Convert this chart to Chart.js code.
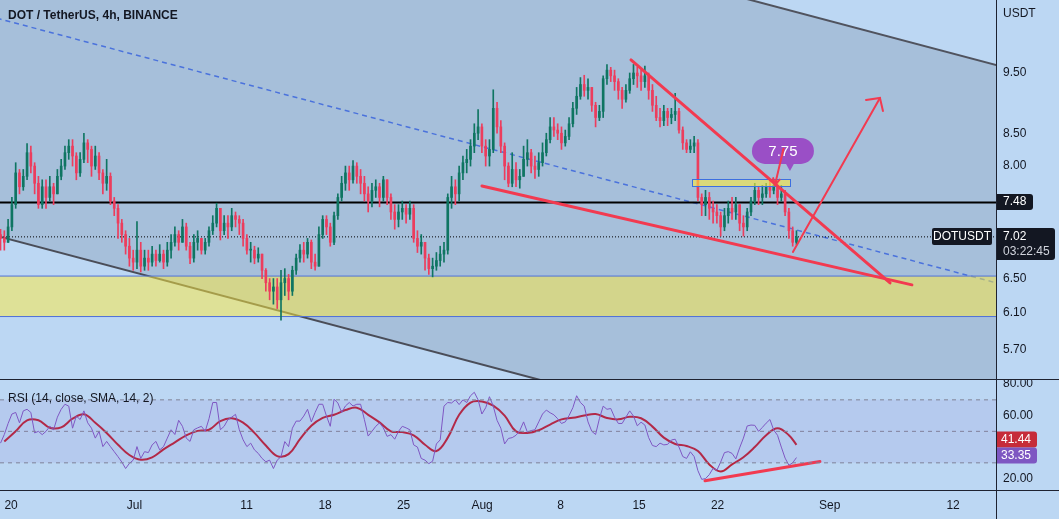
<!DOCTYPE html>
<html>
<head>
<meta charset="utf-8">
<script src="https://cdn.jsdelivr.net/npm/chart.js@4.4.0/dist/chart.umd.min.js"></script>
<style>
  html, body { margin: 0; padding: 0; }
  body { width: 1059px; height: 519px; overflow: hidden; position: relative; background: #bcd7f3; }
  canvas { position: absolute; left: 0; }
  #price { top: 0; }
  #rsi { top: 380px; }
  .sep { position: absolute; background: #1e2230; }
</style>
</head>
<body>
<canvas id="price" width="1059" height="379"></canvas>
<canvas id="rsi" width="1059" height="139"></canvas>
<div class="sep" style="left:0;top:379px;width:1059px;height:1px"></div>
<div class="sep" style="left:0;top:490px;width:1059px;height:1px"></div>
<div class="sep" style="left:996px;top:0;width:1px;height:519px"></div>
<script>
// time is in days counted from Jun 20 00:00
const X_TICK_DAYS = [0, 11, 21, 28, 35, 42, 49, 56, 63, 73, 84];
const X_TICK_LABELS = ['20', 'Jul', '11', '18', '25', 'Aug', '8', '15', '22', 'Sep', '12'];
const X_MIN = -0.99;
const X_MAX = 87.83;

// bars, ~8h apart
const CANDLE_START = -0.943;
const CANDLE_STEP = 0.338;
const FIRST_OPEN = 7.05;

const closes = [
  7.00, 6.95, 7.15, 7.45, 7.90, 7.70,
  7.85, 8.20, 8.00, 7.75, 7.45, 7.70,
  7.55, 7.70, 7.60, 7.85, 8.00, 8.20,
  8.30, 8.15, 7.90, 8.10, 8.35, 8.25,
  8.00, 8.15, 7.90, 7.75, 7.85, 7.50,
  7.40, 7.20, 7.05, 6.90, 6.75, 6.70,
  6.85, 6.65, 6.75, 6.70, 6.80, 6.72,
  6.80, 6.70, 6.85, 6.95, 7.05, 6.95,
  7.15, 6.90, 6.75, 6.95, 7.00, 6.85,
  6.95, 7.10, 7.20, 7.40, 7.10, 7.20,
  7.15, 7.30, 7.25, 7.20, 7.00, 6.85,
  6.85, 6.75, 6.80, 6.60, 6.45, 6.35,
  6.40, 6.25, 6.45, 6.50, 6.35, 6.60,
  6.75, 6.85, 6.80, 6.95, 6.70, 6.65,
  7.05, 7.25, 7.15, 6.95, 7.30, 7.55,
  7.75, 7.90, 7.80, 8.00, 7.85, 7.75,
  7.60, 7.50, 7.65, 7.70, 7.55, 7.80,
  7.55, 7.35, 7.25, 7.35, 7.40, 7.32,
  7.40, 7.00, 6.90, 6.95, 6.75, 6.62,
  6.65, 6.72, 6.80, 6.85, 7.55, 7.70,
  7.60, 7.90, 8.05, 8.10, 8.30, 8.50,
  8.60, 8.30, 8.15, 8.25, 8.90, 8.60,
  8.30, 8.00, 7.75, 7.95, 7.80, 7.85,
  8.10, 8.20, 8.00, 7.95, 8.05, 8.20,
  8.40, 8.60, 8.55, 8.50, 8.35, 8.45,
  8.65, 8.90, 9.10, 9.30, 9.20, 9.25,
  8.95, 8.75, 8.85, 9.40, 9.55, 9.45,
  9.35, 9.20, 9.05, 9.20, 9.40, 9.50,
  9.45, 9.35, 9.45, 9.20, 8.95, 8.75,
  8.70, 8.85, 8.75, 8.80, 8.85, 8.55,
  8.35, 8.25, 8.30, 8.35, 7.55, 7.45,
  7.55, 7.40, 7.35, 7.30, 7.15, 7.30,
  7.40, 7.35, 7.45, 7.20, 7.15, 7.35,
  7.50, 7.65, 7.55, 7.60, 7.70, 7.65,
  7.72, 7.55, 7.60, 7.35, 7.10, 6.95,
  7.02
];
const highs = [
  7.12, 7.10, 7.25, 7.55, 8.05, 7.95,
  7.95, 8.34, 8.30, 8.05, 7.85, 7.80,
  7.80, 7.85, 7.75, 7.95, 8.10, 8.30,
  8.40, 8.40, 8.20, 8.20, 8.50, 8.40,
  8.30, 8.30, 8.20, 7.95, 8.10, 7.90,
  7.55, 7.45, 7.25, 7.10, 7.00, 6.85,
  7.22, 6.95, 6.85, 6.85, 6.90, 6.85,
  6.92, 6.85, 6.95, 7.05, 7.15, 7.10,
  7.25, 7.20, 6.95, 7.05, 7.10, 7.00,
  7.00, 7.15, 7.30, 7.47, 7.40, 7.30,
  7.30, 7.40, 7.35, 7.30, 7.25, 7.05,
  6.95, 6.90, 6.88, 6.80, 6.62, 6.50,
  6.50, 6.50, 6.60, 6.62, 6.55, 6.65,
  6.80, 6.92, 6.95, 7.00, 6.98, 6.80,
  7.15, 7.30, 7.30, 7.20, 7.35, 7.60,
  7.85, 8.00, 8.00, 8.08, 8.05, 7.95,
  7.85, 7.70, 7.75, 7.80, 7.75, 7.85,
  7.75, 7.60, 7.45, 7.45, 7.50, 7.45,
  7.50, 7.45, 7.10, 7.05, 6.95, 6.80,
  6.75, 6.82, 6.90, 6.95, 7.60, 7.85,
  7.80, 8.00, 8.15, 8.25, 8.40, 8.65,
  8.88, 8.65, 8.40, 8.40, 9.21, 9.00,
  8.70, 8.35, 8.05, 8.20, 8.05, 7.95,
  8.30, 8.40, 8.25, 8.15, 8.20, 8.35,
  8.50, 8.75, 8.75, 8.65, 8.60, 8.55,
  8.75, 9.00, 9.25, 9.42, 9.46, 9.40,
  9.25, 9.00, 8.95, 9.45, 9.65, 9.60,
  9.55, 9.40, 9.25, 9.30, 9.50, 9.65,
  9.60, 9.55, 9.62, 9.50, 9.30, 9.10,
  8.90, 8.95, 8.90, 8.90, 9.15, 8.90,
  8.60, 8.40, 8.40, 8.45, 8.40, 7.60,
  7.65, 7.62, 7.50, 7.45, 7.35, 7.40,
  7.50, 7.55, 7.55, 7.45, 7.30, 7.40,
  7.55, 7.75, 7.70, 7.72, 7.75, 7.78,
  7.80, 7.80, 7.72, 7.65, 7.40, 7.15,
  7.10
];
const lows = [
  6.85, 6.85, 6.95, 7.10, 7.40, 7.60,
  7.65, 7.80, 7.90, 7.60, 7.40, 7.40,
  7.40, 7.50, 7.45, 7.60, 7.80, 7.95,
  8.10, 8.00, 7.80, 7.85, 8.05, 8.05,
  7.85, 7.95, 7.80, 7.60, 7.65, 7.45,
  7.30, 7.00, 6.95, 6.80, 6.65, 6.60,
  6.62, 6.58, 6.60, 6.60, 6.65, 6.65,
  6.70, 6.62, 6.65, 6.75, 6.90, 6.85,
  6.95, 6.85, 6.68, 6.70, 6.85, 6.80,
  6.80, 6.90, 7.05, 7.15, 6.98, 7.05,
  7.00, 7.10, 7.15, 7.05, 6.90, 6.80,
  6.70, 6.68, 6.70, 6.50, 6.35, 6.25,
  6.20, 6.15, 6.02, 6.30, 6.25, 6.30,
  6.55, 6.70, 6.70, 6.75, 6.62, 6.60,
  6.65, 7.00, 7.05, 6.90, 6.92, 7.25,
  7.50, 7.65, 7.65, 7.75, 7.75, 7.60,
  7.50, 7.35, 7.42, 7.55, 7.42, 7.50,
  7.45, 7.25, 7.12, 7.15, 7.25, 7.20,
  7.25, 6.95, 6.82, 6.80, 6.60, 6.55,
  6.52, 6.60, 6.65, 6.70, 6.80, 7.40,
  7.45, 7.50, 7.80, 7.90, 8.00, 8.20,
  8.40, 8.20, 8.00, 8.00, 8.20, 8.50,
  8.20, 7.80, 7.70, 7.70, 7.70, 7.68,
  7.85, 8.00, 7.90, 7.82, 7.85, 8.00,
  8.15, 8.35, 8.45, 8.40, 8.25, 8.30,
  8.40, 8.60, 8.80, 9.05, 9.10, 9.05,
  8.85, 8.60, 8.70, 8.75, 9.30, 9.35,
  9.20, 9.05, 8.90, 9.00, 9.15, 9.30,
  9.25, 9.20, 9.25, 9.05, 8.85, 8.70,
  8.60, 8.62, 8.62, 8.65, 8.70, 8.50,
  8.25, 8.20, 8.20, 8.20, 7.50, 7.30,
  7.30, 7.25, 7.20, 7.20, 7.03, 7.10,
  7.20, 7.25, 7.25, 7.10, 7.03, 7.10,
  7.30, 7.45, 7.45, 7.45, 7.55, 7.55,
  7.60, 7.45, 7.50, 7.30, 7.00, 6.90,
  6.92
];

// RSI(14) at each bar, and its SMA(14) read once per day
const rsiValues = [
  42.5, 48, 55, 61, 62, 55.4, 63, 64, 62, 49,
  50, 47.9, 50, 53.2, 51, 59, 64, 67.2, 66, 52,
  59.7, 57.5, 63, 55.4, 52, 45.7, 50, 40.3, 43.6, 40.3,
  37.1, 33.9, 30.5, 26.4, 29.6, 31.7, 40.3, 32.8, 37.1, 36.5,
  41.4, 43.6, 38.2, 40.3, 45.7, 51, 48, 57, 53.2, 45.7,
  43.6, 51, 52.2, 53.2, 50, 58, 68.3, 68.3, 51, 53.2,
  57.5, 59, 60.8, 51, 44.6, 40.3, 42.5, 38.2, 36, 32.8,
  30.7, 31.7, 26.4, 31.7, 33.9, 43.5, 40.3, 52, 56.5, 56.5,
  59.7, 64, 56, 62, 67.2, 67.2, 59.7, 53.2, 70.4, 68,
  62, 66.1, 68.3, 66.1, 67.2, 67.2, 57.5, 47, 50, 53.2,
  55.4, 52.2, 46.8, 47.9, 45, 50, 53.2, 52.2, 51, 41.4,
  40, 32.8, 31.7, 29.5, 31, 42, 44.6, 66, 68.3, 68,
  70, 67, 70, 68.3, 72.6, 74.8, 70, 61, 65, 72,
  66, 57, 52, 42, 45.5, 46, 47.5, 50.5, 56, 49.5,
  50.5, 51, 56, 61, 63.5, 61.8, 60.5, 58, 55, 56,
  60, 65, 72.6, 68.3, 66, 56, 50, 48, 58, 66,
  64, 64.5, 59, 55, 55, 59, 63, 59.7, 53.5, 55.8,
  54, 46, 41, 40.3, 42.5, 41.4, 41.7, 44.5, 45, 40,
  34, 32.8, 37, 34, 25, 19.5, 20, 22.5, 26.5, 25.3,
  30.5, 36.5, 37.1, 36, 32.5, 39.5, 45.7, 53.4, 54, 53.8,
  50, 52.5, 55.2, 57.5, 50.8, 47.5, 40, 33, 28.5, 30,
  33.35
];
const rsiSma = [
  43.5, 50, 57, 57, 52.3, 52.5, 58, 60.8, 55.5, 49,
  41.5, 35, 32, 33.5, 38.5, 43, 47.5, 50.3, 51, 56.5,
  58.3, 55.5, 49, 41, 34.3, 35.5, 45, 53.5, 58.5, 60.5,
  63.5, 65, 60.5, 55.7, 50, 49.5, 47.5, 41.5, 37.5, 46,
  60.5, 68.3, 69, 66.3, 60, 50, 49, 50.7, 54.3, 57.6,
  58.6, 60, 61, 58.5, 57.6, 59.2, 58.3, 53, 46, 42,
  40.7, 37.5, 29, 24.5, 29, 33.5, 40, 47.5, 52, 47.5,
  41.44
];

// price axis
const PRICE_TICKS = [5.70, 6.10, 6.50, 8.00, 8.50, 9.50];
const P_MIN = 5.40;
const P_MAX = 10.87;
const LEVEL = 7.48;
const LAST_PRICE = 7.02;
const COUNTDOWN = '03:22:45';
const ZONE = [6.06, 6.53];

// drawings, [day, price]
const CHANNEL_T = [-2.06, 89.08];
const CHANNEL_UPPER = [15.78, 9.576];
const CHANNEL_MID = [10.557, 6.405];
const CHANNEL_LOWER = [7.062, 4.284];
const WEDGE_LOWER = [[41.99, 7.712], [80.33, 6.425]];
const WEDGE_UPPER = [[55.28, 9.731], [78.38, 6.448]];
const ARROW_SHAFT = [[69.72, 6.828], [77.48, 9.072]];
const ARROW_HEAD = [[76.24, 9.039], [77.48, 9.072], [77.75, 8.857]];
const YELLOW_BOX = [[60.72, 7.81], [69.46, 7.715]];
const BUBBLE = [68.83, 8.227];
const BUBBLE_TEXT = '7.75';
const BUBBLE_ARROW = [[68.88, 8.26], [68.12, 7.727]];

// rsi pane
const RSI_TICKS = [20, 60, 80];
const RSI_LEVELS = [70, 50, 30];
const RSI_MIN = 12.75;
const RSI_MAX = 82.6;
const RSI_TREND = [[61.88, 18.6], [72.13, 30.8]];

const TITLE = 'DOT / TetherUS, 4h, BINANCE';
const RSI_TITLE = 'RSI (14, close, SMA, 14, 2)';
const SYMBOL = 'DOTUSDT';
const CURRENCY = 'USDT';

const UP = '#0f7562';
const DOWN = '#ec3d5d';
const RED = '#f23a50';
const FONT = '"Liberation Sans", Arial, sans-serif';

Chart.defaults.font.family = FONT;
Chart.defaults.font.size = 12;
Chart.defaults.color = '#131722';

const times = closes.map((_, i) => CANDLE_START + i * CANDLE_STEP);
const opens = closes.map((c, i) => (i === 0 ? FIRST_OPEN : closes[i - 1]));
const candleColor = i => (closes[i] >= opens[i] ? UP : DOWN);
const pts = arr => arr.map(([t, v]) => ({ x: t, y: v }));
const flat = v => [{ x: X_MIN, y: v }, { x: X_MAX, y: v }];

function line(label, data, color, width, extra) {
  return Object.assign({
    type: 'line', label, data, borderColor: color, borderWidth: width,
    pointRadius: 0, fill: false, tension: 0
  }, extra || {});
}

function tag(ctx, left, top, w, h, bg) {
  ctx.fillStyle = bg;
  ctx.beginPath();
  ctx.roundRect(left, top, w, h, [0, 3, 3, 0]);
  ctx.fill();
}

const priceOverlay = {
  id: 'priceOverlay',
  afterDatasetDraw(chart, args) {
    if (chart.data.datasets[args.index].label !== 'body') return;
    const { ctx, scales: { x, y } } = chart;
    const x0 = Math.round(x.getPixelForValue(YELLOW_BOX[0][0]));
    const x1 = Math.round(x.getPixelForValue(YELLOW_BOX[1][0]));
    const y0 = Math.round(y.getPixelForValue(YELLOW_BOX[0][1]));
    const y1 = Math.round(y.getPixelForValue(YELLOW_BOX[1][1]));
    ctx.save();
    ctx.fillStyle = 'rgba(255,235,59,0.6)';
    ctx.fillRect(x0, y0, x1 - x0, y1 - y0);
    ctx.strokeStyle = '#3d6fe0';
    ctx.lineWidth = 1;
    ctx.strokeRect(x0 + 0.5, y0 + 0.5, x1 - x0, y1 - y0);
    ctx.restore();
  },
  afterDraw(chart) {
    const { ctx, scales: { x, y } } = chart;
    ctx.save();
    ctx.textBaseline = 'middle';
    ctx.textAlign = 'left';
    ctx.fillStyle = '#131722';
    ctx.font = 'bold 12px ' + FONT;
    ctx.fillText(TITLE, 8, 16);
    ctx.font = '12px ' + FONT;
    ctx.fillText(CURRENCY, 1003, 14);

    // callout bubble
    const cx = x.getPixelForValue(BUBBLE[0]);
    const cy = y.getPixelForValue(BUBBLE[1]);
    ctx.fillStyle = '#9a4fc6';
    ctx.beginPath();
    ctx.roundRect(cx - 31, cy - 13, 62, 26, 13);
    ctx.fill();
    ctx.beginPath();
    ctx.moveTo(cx + 2, cy + 11);
    ctx.lineTo(cx + 12, cy + 11);
    ctx.lineTo(cx + 7, cy + 20);
    ctx.closePath();
    ctx.fill();
    ctx.fillStyle = '#ffffff';
    ctx.font = '15px ' + FONT;
    ctx.textAlign = 'center';
    ctx.fillText(BUBBLE_TEXT, cx, cy + 1);

    // small arrow out of the bubble
    const ax0 = x.getPixelForValue(BUBBLE_ARROW[0][0]), ay0 = y.getPixelForValue(BUBBLE_ARROW[0][1]);
    const ax1 = x.getPixelForValue(BUBBLE_ARROW[1][0]), ay1 = y.getPixelForValue(BUBBLE_ARROW[1][1]);
    const ang = Math.atan2(ay1 - ay0, ax1 - ax0);
    ctx.strokeStyle = RED;
    ctx.lineWidth = 2;
    ctx.lineCap = 'round';
    ctx.beginPath();
    ctx.moveTo(ax0, ay0);
    ctx.lineTo(ax1, ay1);
    ctx.moveTo(ax1 - 7 * Math.cos(ang - 0.5), ay1 - 7 * Math.sin(ang - 0.5));
    ctx.lineTo(ax1, ay1);
    ctx.lineTo(ax1 - 7 * Math.cos(ang + 0.5), ay1 - 7 * Math.sin(ang + 0.5));
    ctx.stroke();

    // price tags
    ctx.font = '12px ' + FONT;
    ctx.textAlign = 'left';
    const yl = Math.round(y.getPixelForValue(LEVEL));
    tag(ctx, 997, yl - 8, 36, 16, '#131722');
    ctx.fillStyle = '#ffffff';
    ctx.fillText(LEVEL.toFixed(2), 1003, yl);

    const yp = Math.round(y.getPixelForValue(LAST_PRICE));
    tag(ctx, 997, yp - 9, 58, 32, '#131722');
    ctx.fillStyle = '#ffffff';
    ctx.fillText(LAST_PRICE.toFixed(2), 1003, yp);
    ctx.fillStyle = '#d1d4dc';
    ctx.fillText(COUNTDOWN, 1003, yp + 15);

    ctx.fillStyle = '#131722';
    ctx.beginPath();
    ctx.roundRect(932, yp - 9, 60, 17, 2);
    ctx.fill();
    ctx.fillStyle = '#ffffff';
    ctx.textAlign = 'center';
    ctx.fillText(SYMBOL, 962, yp);
    ctx.restore();
  }
};

new Chart(document.getElementById('price'), {
  type: 'bar',
  data: {
    datasets: [
      line('channel upper', CHANNEL_T.map((t, k) => ({ x: t, y: CHANNEL_UPPER[k] })), '#50535e', 2,
        { fill: 2, backgroundColor: 'rgba(80,95,120,0.2)', order: 20 }),
      line('channel mid', CHANNEL_T.map((t, k) => ({ x: t, y: CHANNEL_MID[k] })), '#4a72dc', 1.5,
        { borderDash: [5, 4], order: 19 }),
      line('channel lower', CHANNEL_T.map((t, k) => ({ x: t, y: CHANNEL_LOWER[k] })), '#4a4d58', 2,
        { order: 18 }),
      line('zone top', flat(ZONE[1]), '#4f70d8', 1,
        { fill: 4, backgroundColor: 'rgba(255,235,59,0.5)', order: 17 }),
      line('zone bottom', flat(ZONE[0]), '#4f70d8', 1, { order: 16 }),
      line('level', flat(LEVEL), '#000000', 2, { order: 15 }),
      line('last', flat(LAST_PRICE), '#000000', 1, { borderDash: [1, 2], order: 14 }),
      {
        type: 'bar', label: 'wick', order: 13, grouped: false, barThickness: 1,
        data: times.map((t, i) => ({
          x: t,
          y: [Math.min(lows[i], opens[i], closes[i]), Math.max(highs[i], opens[i], closes[i])]
        })),
        backgroundColor: ctx => candleColor(ctx.dataIndex)
      },
      {
        type: 'bar', label: 'body', order: 12, grouped: false, barThickness: 2, minBarLength: 1,
        data: times.map((t, i) => ({ x: t, y: [opens[i], closes[i]] })),
        backgroundColor: ctx => candleColor(ctx.dataIndex)
      },
      line('wedge lower', pts(WEDGE_LOWER), RED, 3, { order: 5, borderCapStyle: 'round' }),
      line('wedge upper', pts(WEDGE_UPPER), RED, 3, { order: 4, borderCapStyle: 'round' }),
      line('arrow', pts(ARROW_SHAFT), RED, 2, { order: 3, borderCapStyle: 'round' }),
      line('arrow head', pts(ARROW_HEAD), RED, 2, { order: 2, borderCapStyle: 'round' })
    ]
  },
  options: {
    responsive: false,
    animation: false,
    events: [],
    layout: { padding: 0 },
    plugins: { legend: { display: false }, tooltip: { enabled: false } },
    scales: {
      x: { type: 'linear', display: false, min: X_MIN, max: X_MAX, offset: false },
      y: {
        type: 'logarithmic', position: 'right', min: P_MIN, max: P_MAX,
        grid: { display: false, drawTicks: false }, border: { display: false },
        afterBuildTicks: a => { a.ticks = PRICE_TICKS.map(v => ({ value: v })); },
        afterFit: a => { a.width = 63; a.paddingTop = 0; a.paddingBottom = 0; },
        ticks: { padding: 7, autoSkip: false, callback: v => Number(v).toFixed(2) }
      }
    }
  },
  plugins: [priceOverlay]
});

const rsiOverlay = {
  id: 'rsiOverlay',
  afterDraw(chart) {
    const { ctx, scales: { y } } = chart;
    ctx.save();
    ctx.textBaseline = 'middle';
    ctx.textAlign = 'left';
    ctx.font = '12px ' + FONT;
    ctx.fillStyle = '#131722';
    ctx.fillText(RSI_TITLE, 8, 19);

    const smaLast = rsiSma[rsiSma.length - 1];
    const rsiLast = rsiValues[rsiValues.length - 1];
    const yPurple = y.getPixelForValue(rsiLast) - 2;
    let yRed = y.getPixelForValue(smaLast);
    if (yPurple - yRed < 16) yRed = yPurple - 16;
    tag(ctx, 997, yRed - 8, 40, 16, '#c62c3a');
    tag(ctx, 997, yPurple - 8, 40, 16, '#7e57c2');
    ctx.fillStyle = '#ffffff';
    ctx.fillText(smaLast.toFixed(2), 1001, yRed);
    ctx.fillText(rsiLast.toFixed(2), 1001, yPurple);
    ctx.restore();
  }
};

const smaIndex = k => Math.min(k * 3 + 1, closes.length - 1);

new Chart(document.getElementById('rsi'), {
  type: 'line',
  data: {
    datasets: [
      line('upper band', flat(RSI_LEVELS[0]), '#808596', 1,
        { borderDash: [4, 4], fill: 1, backgroundColor: 'rgba(126,87,194,0.1)' }),
      line('lower band', flat(RSI_LEVELS[2]), '#808596', 1, { borderDash: [4, 4] }),
      line('middle', flat(RSI_LEVELS[1]), '#808596', 1, { borderDash: [4, 4] }),
      line('rsi', rsiValues.map((v, i) => ({ x: times[i], y: v })), '#7e57c2', 1),
      line('rsi sma', rsiSma.map((v, k) => ({ x: times[smaIndex(k)], y: v })), '#b8243a', 2,
        { tension: 0.4 }),
      line('rsi trend', pts(RSI_TREND), RED, 3, { borderCapStyle: 'round' })
    ]
  },
  options: {
    responsive: false,
    animation: false,
    events: [],
    layout: { padding: 0 },
    plugins: { legend: { display: false }, tooltip: { enabled: false } },
    scales: {
      x: {
        type: 'linear', position: 'bottom', min: X_MIN, max: X_MAX, offset: false,
        grid: { display: false, drawTicks: false }, border: { display: false },
        afterBuildTicks: a => { a.ticks = X_TICK_DAYS.map(v => ({ value: v })); },
        afterFit: a => { a.height = 29; a.paddingLeft = 0; a.paddingRight = 0; },
        ticks: { padding: 8, maxRotation: 0, autoSkip: false, callback: (v, i) => X_TICK_LABELS[i] }
      },
      y: {
        position: 'right', min: RSI_MIN, max: RSI_MAX,
        grid: { display: false, drawTicks: false }, border: { display: false },
        afterBuildTicks: a => { a.ticks = RSI_TICKS.map(v => ({ value: v })); },
        afterFit: a => { a.width = 63; a.paddingTop = 0; a.paddingBottom = 0; },
        ticks: { padding: 7, autoSkip: false, callback: v => Number(v).toFixed(2) }
      }
    }
  },
  plugins: [rsiOverlay]
});
</script>
</body>
</html>
